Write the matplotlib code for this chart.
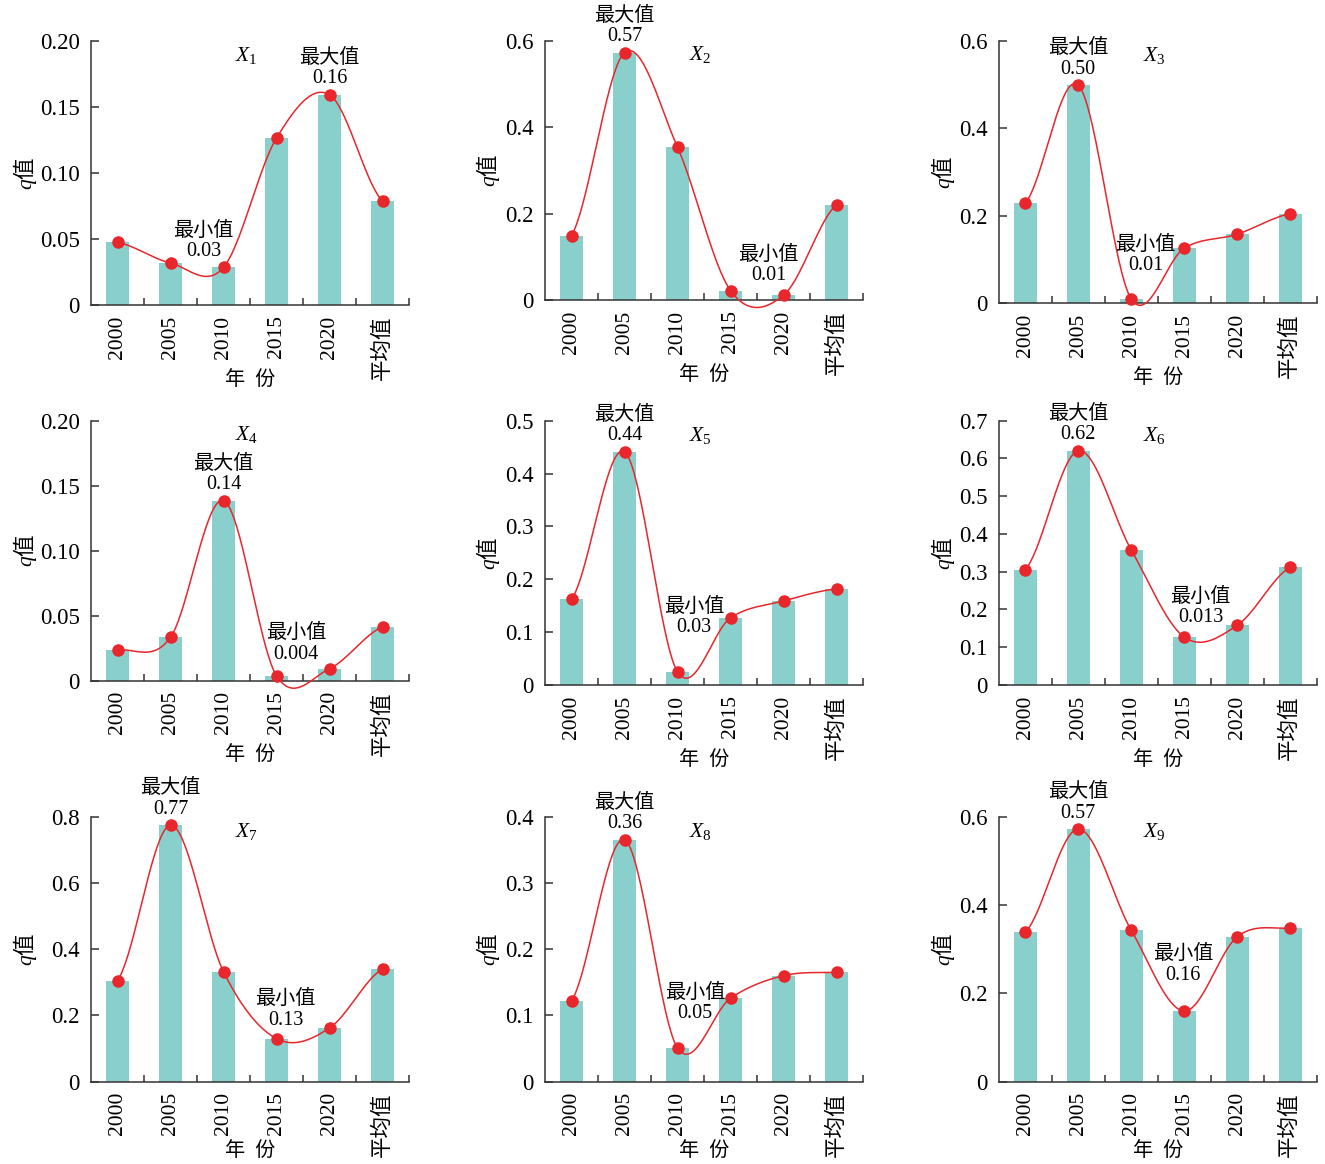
import numpy as np
import matplotlib
matplotlib.use("Agg")
import matplotlib.pyplot as plt
from matplotlib.ticker import FuncFormatter

plt.rcParams['font.family'] = ['Liberation Serif', 'Noto Sans CJK SC']
plt.rcParams['mathtext.fontset'] = 'custom'
plt.rcParams['mathtext.rm'] = 'Liberation Serif'
plt.rcParams['mathtext.it'] = 'Liberation Serif:italic'
plt.rcParams['axes.unicode_minus'] = False

# data
categories = ['2000', '2005', '2010', '2015', '2020', '平均值']

x1 = [0.0475, 0.0318, 0.0285, 0.1265, 0.1593, 0.0788]
x2 = [0.149, 0.573, 0.354, 0.022, 0.011, 0.221]
x3 = [0.229, 0.499, 0.010, 0.126, 0.158, 0.205]
x4 = [0.0236, 0.0334, 0.1385, 0.0038, 0.0092, 0.0413]
x5 = [0.162, 0.441, 0.025, 0.127, 0.159, 0.182]
x6 = [0.305, 0.620, 0.358, 0.127, 0.158, 0.312]
x7 = [0.305, 0.774, 0.332, 0.130, 0.162, 0.340]
x8 = [0.122, 0.365, 0.051, 0.126, 0.160, 0.165]
x9 = [0.338, 0.572, 0.343, 0.160, 0.328, 0.348]

series = [x1, x2, x3, x4, x5, x6, x7, x8, x9]
names = ['$X_1$', '$X_2$', '$X_3$', '$X_4$', '$X_5$', '$X_6$', '$X_7$', '$X_8$', '$X_9$']

y_max = [0.20, 0.6, 0.6, 0.20, 0.5, 0.7, 0.8, 0.4, 0.6]
y_step = [0.05, 0.2, 0.2, 0.05, 0.1, 0.1, 0.2, 0.1, 0.2]
y_dec = [2, 1, 1, 2, 1, 1, 1, 1, 1]

max_text = ['0.16', '0.57', '0.50', '0.14', '0.44', '0.62', '0.77', '0.36', '0.57']
min_text = ['0.03', '0.01', '0.01', '0.004', '0.03', '0.013', '0.13', '0.05', '0.16']

# layout (pixels)
col_left = [91, 545, 998.7]
ax_w = 318
zero_px = [305, 300, 303.3, 680.7, 685, 685, 1081.7, 1081.7, 1081.7]
top_px = [41, 41, 41, 420.7, 420.7, 420.7, 816.7, 816.7, 816.7]
ylab_off = [66, 57, 56]
xlab_off = [75.5, 75, 70]
min_off = [(-20, 10.7), (-15, 14.7), (14.3, 28.3), (19.8, 16.4), (16.5, 39),
           (16.2, 14.3), (9.2, 13.4), (17.5, 29.4), (-0.8, 31)]

W, H = 1325, 1164
bar_c = '#89D0CC'
red = '#E8262B'
axc = '#333333'


def smooth(y, n=40):
    # catmull-rom through the points (like excel smoothed line)
    y = np.asarray(y, float)
    p = np.concatenate([[y[0]], y, [y[-1]]])
    t = np.linspace(0, 1, n)
    xs, ys = [], []
    for i in range(len(y) - 1):
        p0, p1, p2, p3 = p[i], p[i + 1], p[i + 2], p[i + 3]
        m1 = (p2 - p0) / 2
        m2 = (p3 - p1) / 2
        h00 = 2 * t**3 - 3 * t**2 + 1
        h10 = t**3 - 2 * t**2 + t
        h01 = -2 * t**3 + 3 * t**2
        h11 = t**3 - t**2
        xs.append(i + t)
        ys.append(h00 * p1 + h10 * m1 + h01 * p2 + h11 * m2)
    return np.concatenate(xs), np.concatenate(ys)


fig = plt.figure(figsize=(W / 100, H / 100), dpi=100)

for k in range(9):
    r, c = divmod(k, 3)
    vals = series[k]
    rect = [col_left[c] / W, 1 - zero_px[k] / H, ax_w / W, (zero_px[k] - top_px[k]) / H]
    ax = fig.add_axes(rect)
    xpos = np.arange(len(categories))

    ax.bar(xpos, vals, width=0.43, color=bar_c, zorder=1)
    sx, sy = smooth(vals)
    ax.plot(sx, sy, color=red, lw=1.1, zorder=3, clip_on=False)
    ax.plot(xpos, vals, ls='', marker='o', ms=8, color=red, zorder=4, clip_on=False)

    ax.set_xlim(-0.5, 5.5)
    ax.set_ylim(0, y_max[k])
    ax.set_yticks(np.arange(0, y_max[k] + 1e-9, y_step[k]))
    d = y_dec[k]
    ax.yaxis.set_major_formatter(FuncFormatter(lambda v, p, d=d: '0' if abs(v) < 1e-9 else f'{v:.{d}f}'))

    ax.set_xticks(xpos)
    ax.set_xticklabels(categories, rotation=90)
    ax.set_xticks(np.arange(0.5, 6, 1), minor=True)
    ax.tick_params(axis='x', which='major', length=0, pad=7.5, labelsize=15.5)
    ax.tick_params(axis='x', which='minor', direction='in', length=5, width=1.1, color=axc)
    ax.tick_params(axis='y', direction='in', length=6, width=1.1, color=axc, pad=8, labelsize=16.5)

    for s in ['top', 'right']:
        ax.spines[s].set_visible(False)
    for s in ['left', 'bottom']:
        ax.spines[s].set_color(axc)
        ax.spines[s].set_linewidth(1.1)

    # labels
    ax.text(-ylab_off[c] / ax_w, 0.5, '$q$值', rotation=90, ha='center', va='center',
            transform=ax.transAxes, fontsize=15.5, family='Noto Sans CJK SC')
    ax.annotate('年  份', xy=(0.5, 0), xycoords='axes fraction', xytext=(0, -xlab_off[r]),
                textcoords='offset pixels', ha='center', va='center', fontsize=14.5)
    ax.text(0.453, 0.925, names[k], transform=ax.transAxes, ha='left', va='baseline', fontsize=15.5)

    yrs = np.array(vals[:5])
    imax = int(np.argmax(yrs))
    imin = int(np.argmin(yrs))
    ax.annotate('最大值\n' + max_text[k], xy=(imax, vals[imax]), xytext=(0, 11 - 4.5),
                textcoords='offset pixels', ha='center', va='bottom', fontsize=14.5,
                linespacing=1.1, zorder=5)
    dx, dy = min_off[k]
    ax.annotate('最小值\n' + min_text[k], xy=(imin, vals[imin]), xytext=(dx, dy - 4.5),
                textcoords='offset pixels', ha='center', va='bottom', fontsize=14.5,
                linespacing=1.1, zorder=5)

fig.savefig('out.png', dpi=100)
